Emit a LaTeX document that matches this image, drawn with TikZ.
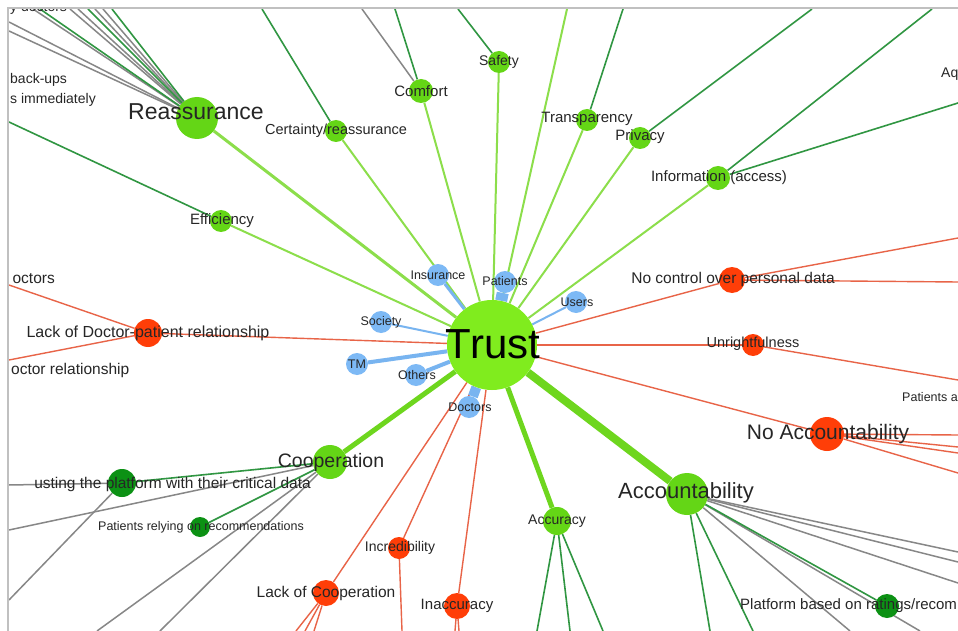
\documentclass[tikz,border=0pt]{standalone}
\usepackage{fontspec}
\setmainfont{Liberation Sans}
\pgfdeclarelayer{bg}
\pgfdeclarelayer{edges}
\pgfsetlayers{bg,edges,main}
\definecolor{lgE}{RGB}{140,222,75}
\definecolor{mgE}{RGB}{110,214,30}
\definecolor{dgE}{RGB}{48,150,66}
\definecolor{grE}{RGB}{135,135,135}
\definecolor{rdE}{RGB}{232,100,72}
\definecolor{blE}{RGB}{120,180,240}
\definecolor{trustC}{RGB}{128,236,30}
\definecolor{midC}{RGB}{100,214,22}
\definecolor{darkC}{RGB}{12,145,20}
\definecolor{redC}{RGB}{255,62,8}
\definecolor{blueC}{RGB}{125,185,245}
\definecolor{txt}{RGB}{38,38,38}
\definecolor{frameC}{RGB}{192,192,192}
\newcommand{\fsz}[1]{\fontsize{#1}{#1}\selectfont}
\begin{document}
\begin{tikzpicture}[x=1pt,y=-1pt,
  vtx/.style={circle,inner sep=0pt,minimum size=#1},
  lime/.style={vtx=#1,fill=trustC},
  mid/.style={vtx=#1,fill=midC},
  dark/.style={vtx=#1,fill=darkC},
  red/.style={vtx=#1,fill=redC},
  blue/.style={vtx=#1,fill=blueC},
  lbl/.style={text=txt,inner sep=0pt,font=\fsz{#1}},
  lgl/.style={draw=lgE,line width=#1},
  lgl/.default=2pt,
  mgl/.style={draw=mgE,line width=#1},
  dgl/.style={draw=dgE,line width=1.6pt},
  gyl/.style={draw=grE,line width=1.5pt},
  rdl/.style={draw=rdE,line width=1.4pt},
  bll/.style={draw=blE,line width=#1},
]
\useasboundingbox (0,0) rectangle (958,631);
\begin{pgfonlayer}{bg}
\fill[white] (0,0) rectangle (958,631);
\end{pgfonlayer}

% ---------- vertices ----------
\node[lime=90]  (trust) at (492,345) {};
\node[mid=42]   (reass) at (197,118) {};
\node[mid=22]   (cert)  at (336,131) {};
\node[mid=24]   (comf)  at (421,91) {};
\node[mid=22]   (safe)  at (499,62) {};
\node[mid=22]   (transp) at (587,120) {};
\node[mid=22]   (priv)  at (640,138) {};
\node[mid=24]   (info)  at (718,178) {};
\node[mid=22]   (effi)  at (221,221) {};
\node[mid=34]   (coop)  at (330,462) {};
\node[mid=42]   (acc)   at (687,494) {};
\node[mid=28]   (accu)  at (557,521) {};
\node[blue=22]  (insur) at (438,275) {};
\node[blue=22]  (pat)   at (505,282) {};
\node[blue=22]  (users) at (576,302) {};
\node[blue=22]  (soc)   at (381,322) {};
\node[blue=22]  (tm)    at (357,364) {};
\node[blue=22]  (oth)   at (416,375) {};
\node[blue=22]  (doc)   at (469,407) {};
\node[red=26]   (nocon) at (732,280) {};
\node[red=22]   (unr)   at (753,345) {};
\node[red=34]   (noacc) at (827,434) {};
\node[red=28]   (lackdp) at (148,333) {};
\node[red=22]   (incr)  at (399,548) {};
\node[red=26]   (lackco) at (326,593) {};
\node[red=26]   (inacc) at (457,606) {};
\node[dark=28]  (trustpf) at (122,483) {};
\node[dark=20]  (relying) at (200,527) {};
\node[dark=24]  (platf) at (887,606) {};

% ---------- free ends at the frame ----------
\coordinate (top1) at (567,9);
\coordinate (rA) at (9,22);   \coordinate (rB) at (9,31);
\coordinate (rC) at (33,9);   \coordinate (rD) at (40,9);
\coordinate (rE) at (70,9);   \coordinate (rF) at (78,9);
\coordinate (rG) at (88,9);   \coordinate (rH) at (95,9);
\coordinate (rI) at (103,9);  \coordinate (rJ) at (112,9);
\coordinate (cT) at (262,9);
\coordinate (coA) at (362,9); \coordinate (coB) at (395,9);
\coordinate (saT) at (458,9);
\coordinate (trT) at (623,9);
\coordinate (prT) at (812,9);
\coordinate (inA) at (932,9); \coordinate (inB) at (958,103);
\coordinate (efL) at (9,122);
\coordinate (ncA) at (958,238); \coordinate (ncB) at (958,282);
\coordinate (unR) at (958,380);
\coordinate (naA) at (958,435); \coordinate (naB) at (958,447);
\coordinate (naC) at (958,453); \coordinate (naD) at (958,473);
\coordinate (ldA) at (9,285);  \coordinate (ldB) at (9,360);
\coordinate (lcA) at (296,631); \coordinate (lcB) at (305,631);
\coordinate (lcC) at (314,631);
\coordinate (icB) at (402,631);
\coordinate (iaA) at (455,631); \coordinate (iaB) at (459,631);
\coordinate (cpA) at (9,530);  \coordinate (cpB) at (97,631);
\coordinate (cpC) at (160,631);
\coordinate (tpA) at (9,600);  \coordinate (tpB) at (9,485);
\coordinate (acA) at (958,552); \coordinate (acB) at (958,562);
\coordinate (acC) at (958,583); \coordinate (acD) at (850,631);
\coordinate (acE) at (920,631); \coordinate (acF) at (710,631);
\coordinate (acG) at (753,631);
\coordinate (auA) at (537,631); \coordinate (auB) at (570,631);
\coordinate (auC) at (603,631);

% ---------- edges ----------
\begin{pgfonlayer}{edges}
\begin{scope}
\clip (9,9) rectangle (958,631);
% outer links
\foreach \e in {rA,rB,rC,rE,rF,rH,rI} \draw[gyl] (reass) -- (\e);
\foreach \e in {rD,rG,rJ} \draw[dgl] (reass) -- (\e);
\draw[dgl] (cert) -- (cT);
\draw[gyl] (comf) -- (coA);
\draw[dgl] (comf) -- (coB);
\draw[dgl] (safe) -- (saT);
\draw[dgl] (transp) -- (trT);
\draw[dgl] (priv) -- (prT);
\draw[dgl] (info) -- (inA);
\draw[dgl] (info) -- (inB);
\draw[dgl] (effi) -- (efL);
\draw[rdl] (nocon) -- (ncA);
\draw[rdl] (nocon) -- (ncB);
\draw[rdl] (unr) -- (unR);
\foreach \e in {naA,naB,naC,naD} \draw[rdl] (noacc) -- (\e);
\draw[rdl] (lackdp) -- (ldA);
\draw[rdl] (lackdp) -- (ldB);
\foreach \e in {lcA,lcB,lcC} \draw[rdl] (lackco) -- (\e);
\draw[rdl] (incr) -- (icB);
\draw[rdl] (inacc) -- (iaA);
\draw[rdl] (inacc) -- (iaB);
\foreach \e in {cpA,cpB,cpC} \draw[gyl] (coop) -- (\e);
\draw[gyl] (trustpf) -- (tpA);
\draw[gyl] (trustpf) -- (tpB);
\draw[dgl] (coop) -- (trustpf);
\draw[dgl] (coop) -- (relying);
\foreach \e in {acA,acB,acC,acD,acE} \draw[gyl] (acc) -- (\e);
\draw[dgl] (acc) -- (platf);
\draw[dgl] (acc) -- (acF);
\draw[dgl] (acc) -- (acG);
\foreach \e in {auA,auB,auC} \draw[dgl] (accu) -- (\e);
% links of the centre
\draw[lgl=3pt] (trust) -- (reass);
\foreach \e in {cert,comf,safe,top1,transp,priv,info,effi} \draw[lgl] (trust) -- (\e);
\draw[mgl=5pt] (trust) -- (coop);
\draw[mgl=8pt] (trust) -- (acc);
\draw[mgl=5pt] (trust) -- (accu);
\foreach \e in {nocon,unr,noacc,lackdp,incr,lackco,inacc} \draw[rdl] (trust) -- (\e);
\draw[bll=12pt] (trust) -- (pat);
\draw[bll=10pt] (trust) -- (doc);
\draw[bll=4pt] (trust) -- (tm);
\draw[bll=4pt] (trust) -- (oth);
\draw[bll=3pt] (trust) -- (insur);
\draw[bll=2pt] (trust) -- (soc);
\draw[bll=2pt] (trust) -- (users);
\end{scope}
\end{pgfonlayer}

% ---------- labels ----------
\begin{scope}
\clip (9,9) rectangle (958,631);
\node[lbl=42,text=black] (l-trust) at (493,344) {Trust};
\node[lbl=23] (l-reass) at (196,112) {Reassurance};
\node[lbl=14.5] (l-cert) at (336,131) {Certainty/reassurance};
\node[lbl=15] (l-comf) at (421,91) {Comfort};
\node[lbl=14] (l-safe) at (499,62) {Safety};
\node[lbl=15] (l-transp) at (587,119) {Transparency};
\node[lbl=15] (l-priv) at (640,137) {Privacy};
\node[lbl=15] (l-info) at (719,178) {Information (access)};
\node[lbl=15] (l-effi) at (222,221) {Efficiency};
\node[lbl=12.5] (l-insur) at (438,275) {Insurance};
\node[lbl=12.5] (l-pat) at (505,281) {Patients};
\node[lbl=12.5] (l-users) at (577,302) {Users};
\node[lbl=12.5] (l-soc) at (381,322) {Society};
\node[lbl=12.5] (l-tm) at (357,364) {TM};
\node[lbl=12.5] (l-oth) at (417,375) {Others};
\node[lbl=12.5] (l-doc) at (470,407) {Doctors};
\node[lbl=15.5] (l-nocon) at (733,279) {No control over personal data};
\node[lbl=14.5] (l-unr) at (753,344) {Unrightfulness};
\node[lbl=21] (l-noacc) at (828,434) {No Accountability};
\node[lbl=16] (l-lackdp) at (148,333) {Lack of Doctor-patient relationship};
\node[lbl=19.5] (l-coop) at (331,462) {Cooperation};
\node[lbl=22] (l-acc) at (686,493) {Accountability};
\node[lbl=14] (l-accu) at (557,521) {Accuracy};
\node[lbl=14] (l-incr) at (400,548) {Incredibility};
\node[lbl=15.5] (l-lackco) at (326,593) {Lack of Cooperation};
\node[lbl=15] (l-inacc) at (457,606) {Inaccuracy};
\node[lbl=15.5,anchor=east] (l-trustpf) at (311,484) {usting the platform with their critical data};
\node[lbl=12.5] (l-relying) at (201,527) {Patients relying on recommendations};
\node[lbl=15,anchor=west] (l-platf) at (740,606) {Platform based on ratings/recom};
\node[lbl=14,anchor=west] (l-backups) at (10,80) {back-ups};
\node[lbl=14,anchor=west] (l-immed) at (10,100) {s immediately};
\node[lbl=14,anchor=west] (l-ydoc) at (10,8) {y doctors};
\node[lbl=15.5,anchor=east] (l-octors) at (55,279) {octors};
\node[lbl=15.5,anchor=west] (l-octrel) at (11,370) {octor relationship};
\node[lbl=14,anchor=west] (l-aq) at (941,74) {Aq};
\node[lbl=12.5,anchor=west] (l-pata) at (902,397) {Patients a};
\end{scope}

% ---------- frame ----------
\draw[frameC,line width=2pt] (8,631) -- (8,8) -- (958,8);
\end{tikzpicture}
\end{document}
